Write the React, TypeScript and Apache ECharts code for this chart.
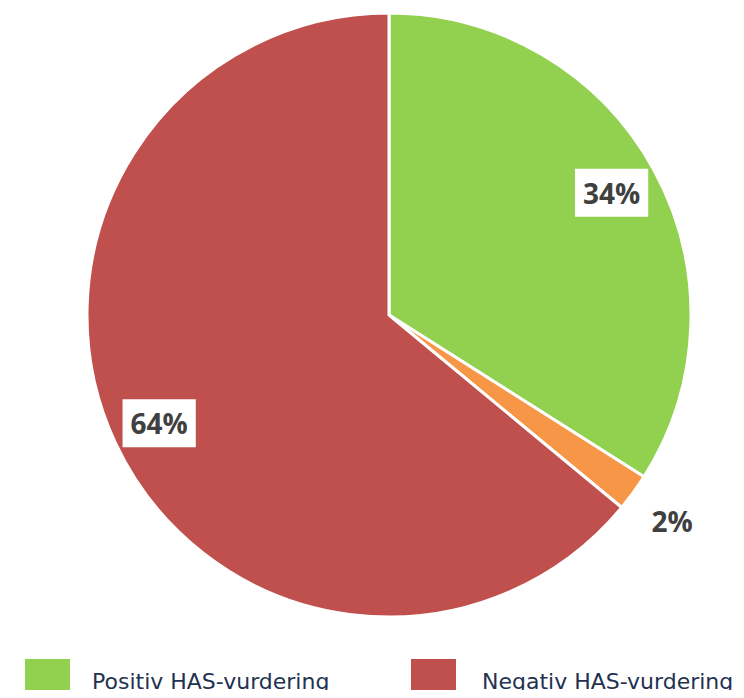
import React, { useEffect, useRef } from "react";
import * as echarts from "echarts";

const categories = ["Positiv HAS-vurdering", "Uavklart", "Negativ HAS-vurdering"];
const values = [34, 2, 64];
const colors = ["#92D050", "#F79646", "#C0504D"];
const legendNames = ["Positiv HAS-vurdering", "Negativ HAS-vurdering"];

export default function App() {
  const ref = useRef<HTMLDivElement>(null);
  useEffect(() => {
    if (!ref.current) return;
    const chart = echarts.init(ref.current, null, { renderer: "svg" });
    const center = [389, 315];
    const R = 302;
    const labelFont = {
      fontFamily: "'Open Sans', sans-serif",
      fontWeight: "bold" as const,
      fontSize: 28,
      color: "#404040",
    };
    const baseData = categories.map((name, i) => ({
      name,
      value: values[i],
      itemStyle: { color: colors[i] },
    }));
    const innerLabelData = categories.map((name, i) => ({
      name,
      value: values[i],
      label: {
        show: i !== 1,
        position: "inside",
        formatter: "{c}%",
        backgroundColor: "#ffffff",
        padding: [9, 8, 8, 8],
        lineHeight: 31,
        ...labelFont,
      },
    }));
    const outerLabelData = categories.map((name, i) => ({
      name,
      value: values[i],
      label: {
        show: i === 1,
        position: "inside",
        formatter: "{c}%",
        ...labelFont,
      },
    }));
    const legendText = (pad: number) => ({
      fontFamily: "'DejaVu Sans', sans-serif",
      fontSize: 22,
      color: "#1F3250",
      padding: [2, 0, 0, pad],
    });
    chart.setOption({
      animation: false,
      legend: [
        {
          left: 23,
          top: 657,
          itemWidth: 47,
          itemHeight: 47,
          padding: 0,
          selectedMode: false,
          data: [{ name: legendNames[0], icon: "rect", itemStyle: { color: colors[0] } }],
          textStyle: legendText(16),
        },
        {
          left: 409,
          top: 657,
          itemWidth: 47,
          itemHeight: 47,
          padding: 0,
          selectedMode: false,
          data: [{ name: legendNames[1], icon: "rect", itemStyle: { color: colors[2] } }],
          textStyle: legendText(20),
        },
      ],
      series: [
        {
          type: "pie",
          center,
          radius: [0, R],
          startAngle: 90,
          clockwise: true,
          label: { show: false },
          labelLine: { show: false },
          itemStyle: { borderColor: "#ffffff", borderWidth: 3 },
          emphasis: { disabled: true },
          data: baseData,
        },
        {
          type: "pie",
          center,
          radius: [200, R],
          startAngle: 90,
          clockwise: true,
          silent: true,
          itemStyle: { color: "transparent", borderWidth: 0 },
          labelLine: { show: false },
          emphasis: { disabled: true },
          data: innerLabelData,
          z: 3,
        },
        {
          type: "pie",
          center,
          radius: [R, 392],
          startAngle: 90,
          clockwise: true,
          silent: true,
          itemStyle: { color: "transparent", borderWidth: 0 },
          labelLine: { show: false },
          emphasis: { disabled: true },
          data: outerLabelData,
          z: 3,
        },
      ],
    });
    return () => chart.dispose();
  }, []);
  return <div ref={ref} style={{ width: 744, height: 698, margin: -8 }} />;
}
